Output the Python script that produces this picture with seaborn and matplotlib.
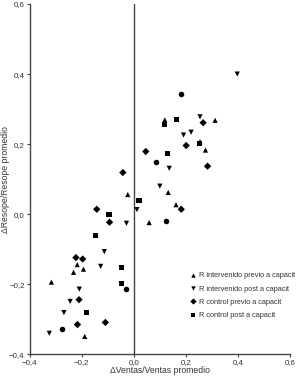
import matplotlib
matplotlib.use("Agg")
import matplotlib.pyplot as plt
import seaborn as sns
import pandas as pd

# Data
grupos = ["R intervenido previo a capacit", "R intervenido post a capacit",
          "R control previo a capacit", "R control post a capacit"]

int_previo_x = [-0.023, 0.059, -0.217, -0.193, -0.231, -0.316, -0.188, 0.119, 0.312, 0.254, 0.275, 0.132, 0.162]
int_previo_y = [0.056, -0.024, -0.144, -0.157, -0.166, -0.194, -0.349, 0.269, 0.268, 0.207, 0.183, 0.062, 0.027]

int_post_x = [0.397, 0.254, 0.191, 0.220, 0.136, 0.100, 0.012, -0.028, -0.113, -0.127, -0.209, -0.244, -0.268, -0.324]
int_post_y = [0.400, 0.278, 0.226, 0.234, 0.131, 0.080, 0.013, -0.026, -0.107, -0.149, -0.214, -0.249, -0.281, -0.340]

ctrl_previo_x = [-0.042, 0.046, 0.266, 0.201, 0.283, 0.182, -0.142, -0.093, -0.222, -0.196, -0.210, -0.216, -0.109]
ctrl_previo_y = [0.119, 0.179, 0.261, 0.196, 0.137, 0.014, 0.014, -0.023, -0.124, -0.128, -0.244, -0.315, -0.309]

ctrl_post_x = [0.119, 0.164, 0.252, 0.128, 0.020, -0.095, -0.148, -0.046, -0.046, -0.182]
ctrl_post_y = [0.257, 0.271, 0.201, 0.174, 0.040, -0.001, -0.060, -0.153, -0.198, -0.281]

# round-looking points (not in legend)
otros_x = [0.183, 0.084, 0.124, -0.031, -0.275]
otros_y = [0.344, 0.149, -0.020, -0.213, -0.327]

x_ticks = [-0.4, -0.2, 0.0, 0.2, 0.4, 0.6]
y_ticks = [-0.4, -0.2, 0.0, 0.2, 0.4, 0.6]
x_label = "ΔVentas/Ventas promedio"
y_label = "ΔResope/Resope promedio"

rows = []
for g, xs, ys in zip(grupos,
                     [int_previo_x, int_post_x, ctrl_previo_x, ctrl_post_x],
                     [int_previo_y, int_post_y, ctrl_previo_y, ctrl_post_y]):
    for a, b in zip(xs, ys):
        rows.append({"x": a, "y": b, "grupo": g})
df = pd.DataFrame(rows)
df_otros = pd.DataFrame({"x": otros_x, "y": otros_y})

sns.set_style("white")
plt.rcParams["font.family"] = ["Liberation Sans", "DejaVu Sans"]

fig = plt.figure(figsize=(3.0, 3.8), dpi=100)
ax = fig.add_axes([29.5 / 300, 1 - 354.3 / 380, (290.2 - 29.5) / 300, (354.3 - 4) / 380])

markers = {grupos[0]: "^", grupos[1]: "v", grupos[2]: "D", grupos[3]: "s"}
sns.scatterplot(data=df, x="x", y="y", style="grupo", style_order=grupos, markers=markers,
                color="black", s=14, linewidth=0, ax=ax, legend=True)
sns.scatterplot(data=df_otros, x="x", y="y", marker="o", color="black", s=16,
                linewidth=0, ax=ax, legend=False)

ax.axvline(0, color="#444444", lw=1.0, zorder=0)
ax.set_xlim(-0.4, 0.6)
ax.set_ylim(-0.4, 0.6)
ax.set_xticks(x_ticks)
ax.set_yticks(y_ticks)
fmt = lambda v: ("\u2212" if v < -1e-9 else "") + f"{abs(v):.1f}".replace(".", ",")
ax.set_xticklabels([fmt(v) for v in x_ticks])
ax.set_yticklabels([fmt(v) for v in y_ticks])
ax.tick_params(axis="both", labelsize=5.7, length=2.5, width=0.8, pad=1,
               colors="#444444", labelcolor="#333333", left=True, bottom=True)
for side in ["top", "right"]:
    ax.spines[side].set_visible(False)
for side in ["left", "bottom"]:
    ax.spines[side].set_color("#444444")
    ax.spines[side].set_linewidth(1.0)
ax.set_xlabel(x_label, fontsize=6.2, color="#333333")
ax.set_ylabel(y_label, fontsize=6.2, color="#333333")
ax.xaxis.set_label_coords(0.5, -0.034)
ax.yaxis.set_label_coords(-0.075, 0.5)

leg = ax.legend(loc="upper left", bbox_to_anchor=(189 / 300, 1 - 272 / 380),
                bbox_transform=fig.transFigure, frameon=False, fontsize=5.3,
                handletextpad=0.3, handlelength=1.0, labelspacing=0.85,
                borderpad=0, borderaxespad=0, markerscale=0.85)
for t in leg.get_texts():
    t.set_color("#333333")

fig.savefig("out.png", dpi=100)
